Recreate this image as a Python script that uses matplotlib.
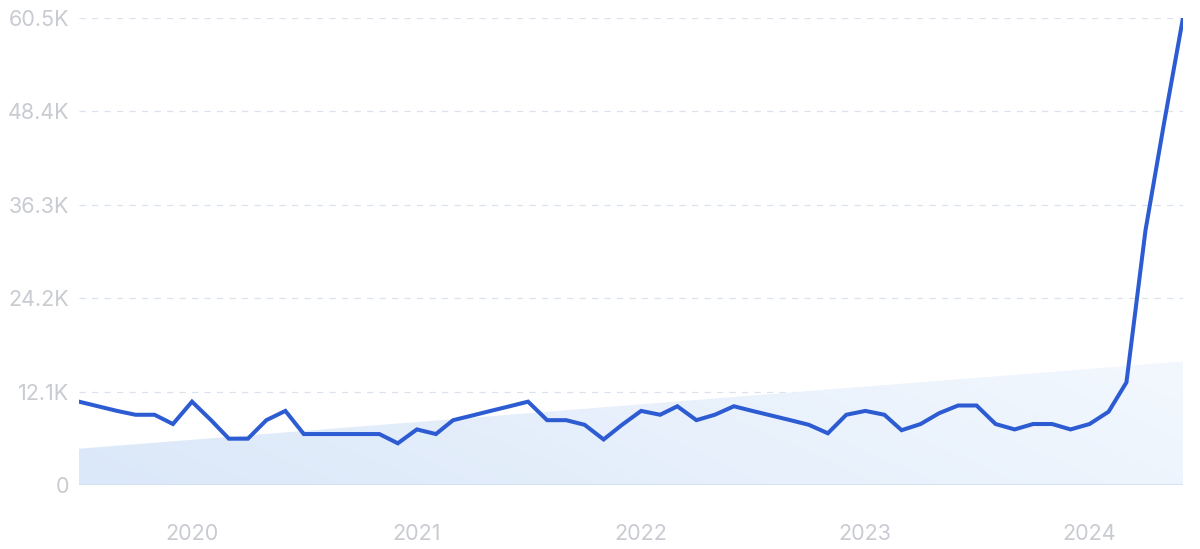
import numpy as np
import pandas as pd
import matplotlib
matplotlib.use("Agg")
import matplotlib.pyplot as plt
from matplotlib.colors import LinearSegmentedColormap
from matplotlib.patches import Polygon

# monthly values, Jul 2019 .. Jun 2024 (in thousands)
months = pd.date_range("2019-07-01", "2024-06-01", freq="MS")
values = [
    10.8, 10.2, 9.6, 9.1, 9.1, 7.9,            # 2019 Jul-Dec
    10.8, 8.4, 6.0, 6.0, 8.4, 9.6,             # 2020 Jan-Jun
    6.6, 6.6, 6.6, 6.6, 6.6, 5.4,              # 2020 Jul-Dec
    7.2, 6.6, 8.4, 9.0, 9.6, 10.2,             # 2021 Jan-Jun
    10.8, 8.4, 8.4, 7.8, 5.9, 7.8,             # 2021 Jul-Dec
    9.6, 9.1, 10.2, 8.4, 9.1, 10.2,            # 2022 Jan-Jun
    9.6, 9.0, 8.4, 7.8, 6.7, 9.1,              # 2022 Jul-Dec
    9.6, 9.1, 7.1, 7.9, 9.3, 10.3,             # 2023 Jan-Jun
    10.3, 7.9, 7.2, 7.9, 7.9, 7.2,             # 2023 Jul-Dec
    7.9, 9.5, 13.3, 33.0, 46.8, 60.5,          # 2024 Jan-Jun
]
values = np.array(values) * 1000

# trend band (start / end value)
trend_start, trend_end = 4700, 16000

yticks = [0, 12100, 24200, 36300, 48400, 60500]
ytick_labels = ["0", "12.1K", "24.2K", "36.3K", "48.4K", "60.5K"]
year_ticks = pd.to_datetime(["2020-01-01", "2021-01-01", "2022-01-01",
                             "2023-01-01", "2024-01-01"])
year_labels = ["2020", "2021", "2022", "2023", "2024"]

plt.rcParams["font.family"] = ["Inter", "DejaVu Sans"]

fig = plt.figure(figsize=(12, 5.49), dpi=100)
ax = fig.add_axes([0.0658, 0.1166, 0.9200, 0.8504])

x = matplotlib.dates.date2num(months)
x0, x1 = x[0], x[-1]

# gradient trend area
cmap = LinearSegmentedColormap.from_list("trend", ["#dbe8f9", "#f3f8fe"])
gx, gy = np.meshgrid(np.linspace(0, 1, 200), np.linspace(0, 1, 50))
grad = (gx * 0.8 + (1 - gy) * 0.2)
img = ax.imshow(grad, cmap=cmap, aspect="auto", origin="upper",
                extent=[x0, x1, 0, trend_end], zorder=1)
poly = Polygon([[x0, 0], [x0, trend_start], [x1, trend_end], [x1, 0]],
               closed=True, facecolor="none", edgecolor="none")
ax.add_patch(poly)
img.set_clip_path(poly)

# grid
for t in yticks[1:]:
    ax.axhline(t, color="#dbe2ee", lw=0.9, ls=(0, (5, 5)), zorder=0)
ax.axhline(0, color="#d3e0f3", lw=1.2, zorder=2)

ax.plot(x, values, color="#2d5cd2", lw=2.9, solid_joinstyle="miter",
        zorder=3)

ax.set_xlim(x0, x1)
ax.set_ylim(0, 60500)
ax.set_yticks(yticks)
ax.set_yticklabels(ytick_labels)
ax.set_xticks(matplotlib.dates.date2num(year_ticks))
ax.set_xticklabels(year_labels)
ax.tick_params(axis="both", length=0, labelsize=15.5, colors="#c8cbd1")
ax.tick_params(axis="x", pad=28)
ax.tick_params(axis="y", pad=7)
for s in ax.spines.values():
    s.set_visible(False)

fig.savefig("out.png", dpi=100)
